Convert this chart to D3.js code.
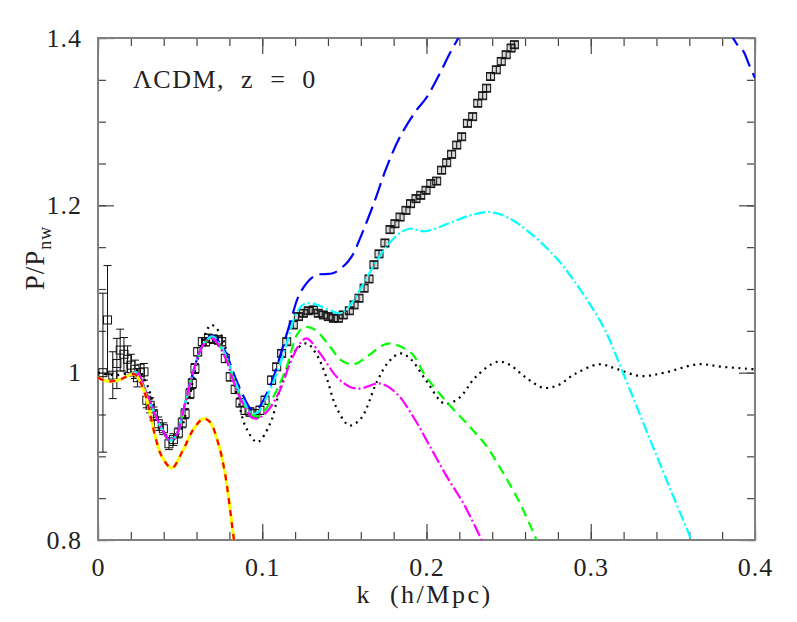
<!DOCTYPE html>
<html>
<head>
<meta charset="utf-8">
<script src="https://cdn.jsdelivr.net/npm/d3@7"></script>
<style>
  body { margin: 0; background: #fff; }
  svg text { font-family: "Liberation Serif", "DejaVu Serif", serif; fill: #222; }
</style>
</head>
<body>
<div class="chart"></div>
<script>
// measured points (k, P/Pnw, error)
const dataK = [0.003,0.0058,0.009,0.0115,0.0135,0.0158,0.018,0.020,0.0225,0.024,0.0258,0.028,0.0297,0.0317,0.0337,0.0367,0.0398,0.0432,0.0459,0.0489,0.0513,0.053,0.056,0.0574,0.059,0.0607,0.0635,0.0655,0.0672,0.0702,0.0733,0.0753,0.0775,0.0805,0.0835,0.0865,0.0895,0.0925,0.0956,0.0986,0.1017,0.1057,0.1088,0.1118,0.1149,0.1189,0.122,0.125,0.128,0.1311,0.1341,0.1372,0.1402,0.1433,0.1463,0.1493,0.153,0.1559,0.1589,0.162,0.165,0.168,0.1711,0.1747,0.1778,0.1808,0.1839,0.1875,0.1903,0.1936,0.1965,0.1997,0.2026,0.2062,0.2092,0.2123,0.2153,0.2184,0.2214,0.2249,0.2281,0.2312,0.2342,0.2366,0.239,0.2425,0.2455,0.2485,0.2515,0.2535];
const dataP = [1.000,1.063,0.997,1.011,1.027,1.022,1.016,1.009,1.004,0.994,1.000,1.001,0.967,0.961,0.951,0.939,0.933,0.915,0.920,0.928,0.940,0.951,0.975,0.987,1.005,1.025,1.037,1.037,1.041,1.040,1.039,1.037,1.017,0.995,0.980,0.964,0.955,0.953,0.951,0.955,0.967,0.991,1.007,1.023,1.037,1.057,1.067,1.071,1.074,1.075,1.071,1.069,1.067,1.065,1.065,1.069,1.074,1.081,1.089,1.101,1.112,1.129,1.142,1.155,1.171,1.178,1.186,1.194,1.202,1.208,1.212,1.218,1.226,1.229,1.242,1.251,1.261,1.272,1.282,1.298,1.306,1.322,1.331,1.340,1.354,1.362,1.372,1.380,1.388,1.392];
const dataErr = [0.095,0.065,0.028,0.030,0.025,0.020,0.016,0.013,0.011,0.011,0.010,0.010,0.009,0.009,0.008,0.008,0.007,0.007,0.007,0.006,0.006,0.006,0.006,0.006,0.006,0.005,0.005,0.005,0.005,0.005,0.005,0.005,0.005,0.005,0.005,0.005,0.005,0.005,0.005,0.005,0.005,0.005,0.004,0.004,0.004,0.004,0.004,0.004,0.004,0.004,0.004,0.004,0.004,0.004,0.004,0.004,0.004,0.004,0.004,0.004,0.004,0.004,0.004,0.004,0.004,0.004,0.004,0.004,0.004,0.004,0.004,0.004,0.004,0.004,0.004,0.004,0.004,0.004,0.004,0.004,0.004,0.004,0.004,0.004,0.004,0.004,0.004,0.004,0.004,0.004];

// model curves, [k, P/Pnw]; null marks a gap (curve off the top)
const linearRatio = [[0,1.0],[0.01,0.997],[0.02,1.0],[0.025,1.002],[0.03,0.985],[0.035,0.955],[0.04,0.928],[0.044,0.918],[0.05,0.93],[0.055,0.965],[0.06,1.01],[0.065,1.045],[0.069,1.057],[0.075,1.045],[0.08,1.01],[0.085,0.97],[0.09,0.935],[0.097,0.917],[0.105,0.94],[0.11,0.975],[0.115,1.005],[0.12,1.026],[0.127,1.035],[0.133,1.022],[0.139,0.995],[0.145,0.959],[0.153,0.937],[0.16,0.945],[0.17,0.99],[0.177,1.013],[0.184,1.023],[0.19,1.017],[0.2,0.99],[0.211,0.963],[0.22,0.97],[0.23,0.995],[0.243,1.013],[0.25,1.01],[0.26,0.995],[0.271,0.982],[0.28,0.985],[0.29,0.998],[0.305,1.01],[0.315,1.005],[0.33,0.996],[0.345,1.0],[0.365,1.01],[0.38,1.007],[0.4,1.004]];
const blueCurve = [[0,0.994],[0.005,0.99],[0.01,0.99],[0.015,0.993],[0.02,0.999],[0.024,1.0],[0.0286,0.98],[0.0337,0.956],[0.0388,0.934],[0.0438,0.92],[0.0479,0.927],[0.053,0.963],[0.059,1.008],[0.0641,1.034],[0.0695,1.044],[0.0773,1.026],[0.0824,1.0],[0.0885,0.972],[0.0936,0.956],[0.0976,0.958],[0.1027,0.975],[0.1057,0.988],[0.1169,1.059],[0.123,1.095],[0.1321,1.116],[0.1433,1.119],[0.1504,1.129],[0.1545,1.139],[0.1605,1.165],[0.1686,1.206],[0.1758,1.246],[0.1839,1.282],[0.194,1.314],[0.2001,1.329],[0.2082,1.358],[0.2143,1.382],[0.2188,1.398],[0.222,1.41],null,[0.384,1.41],[0.3866,1.4],[0.39,1.39],[0.393,1.384],[0.396,1.37],[0.4,1.352]];
const cyanCurve = [[0,0.994],[0.005,0.99],[0.01,0.99],[0.015,0.993],[0.02,0.999],[0.024,1.0],[0.0286,0.979],[0.0337,0.955],[0.0388,0.933],[0.0438,0.919],[0.0479,0.926],[0.053,0.963],[0.059,1.008],[0.0641,1.033],[0.0685,1.043],[0.0702,1.043],[0.0773,1.023],[0.0824,0.995],[0.0885,0.967],[0.0936,0.951],[0.0976,0.953],[0.1027,0.971],[0.1088,0.999],[0.1149,1.035],[0.12,1.068],[0.124,1.08],[0.127,1.083],[0.1321,1.082],[0.1372,1.078],[0.1433,1.073],[0.1473,1.071],[0.1524,1.078],[0.1595,1.099],[0.1676,1.127],[0.1758,1.151],[0.1839,1.167],[0.19,1.172],[0.1991,1.169],[0.2143,1.179],[0.2265,1.188],[0.2387,1.192],[0.25,1.185],[0.263,1.167],[0.2772,1.141],[0.2894,1.111],[0.3076,1.055],[0.3198,0.999],[0.3361,0.92],[0.3503,0.852],[0.3604,0.804],[0.3615,0.798]];
const greenCurve = [[0,0.994],[0.005,0.99],[0.01,0.99],[0.015,0.993],[0.02,0.999],[0.024,1.0],[0.0286,0.979],[0.0337,0.955],[0.0388,0.933],[0.0438,0.919],[0.0479,0.926],[0.053,0.963],[0.059,1.008],[0.0641,1.033],[0.0695,1.042],[0.0773,1.021],[0.0824,0.993],[0.0885,0.964],[0.0936,0.95],[0.098,0.948],[0.1027,0.958],[0.1088,0.979],[0.1149,1.007],[0.121,1.045],[0.125,1.054],[0.129,1.054],[0.133,1.05],[0.1413,1.031],[0.1473,1.016],[0.1534,1.01],[0.1575,1.011],[0.1636,1.019],[0.1737,1.033],[0.178,1.035],[0.1808,1.034],[0.191,1.023],[0.1991,0.997],[0.2123,0.965],[0.2265,0.935],[0.2366,0.912],[0.2467,0.88],[0.2569,0.844],[0.2661,0.804],[0.268,0.795]];
const magentaCurve = [[0,0.994],[0.005,0.99],[0.01,0.99],[0.015,0.993],[0.02,0.999],[0.024,1.0],[0.0286,0.979],[0.0337,0.955],[0.0388,0.933],[0.0438,0.919],[0.0479,0.926],[0.053,0.963],[0.059,1.008],[0.0641,1.033],[0.0695,1.041],[0.0773,1.019],[0.0824,0.99],[0.0885,0.962],[0.0936,0.947],[0.0966,0.945],[0.1027,0.953],[0.1108,0.979],[0.1169,1.011],[0.123,1.035],[0.127,1.041],[0.1352,1.023],[0.1453,0.995],[0.1534,0.983],[0.1595,0.981],[0.1717,0.987],[0.1819,0.975],[0.192,0.947],[0.2021,0.912],[0.2123,0.876],[0.2224,0.844],[0.2326,0.804],[0.234,0.798]];
const redCurve = [[0,0.994],[0.005,0.99],[0.01,0.99],[0.015,0.993],[0.02,0.998],[0.0225,0.998],[0.0246,0.993],[0.0286,0.975],[0.0317,0.951],[0.0347,0.925],[0.0388,0.9],[0.0449,0.886],[0.0519,0.908],[0.058,0.932],[0.0641,0.945],[0.0682,0.941],[0.0733,0.915],[0.0773,0.88],[0.0828,0.8],[0.084,0.785]];

const xMajor = [0, 0.1, 0.2, 0.3, 0.4];
const xMinor = d3.range(0, 0.4001, 0.02);
const yMajor = [0.8, 1.0, 1.2, 1.4];
const yMinor = d3.range(0.8, 1.4001, 0.05);

const svg_width = 797, svg_height = 622;
const margin = {top:38, right:42, bottom:82, left:98};
const width = svg_width - margin.left - margin.right;
const height = svg_height - margin.top - margin.bottom;

const svg = d3.select('.chart').append('svg')
  .attr('width', svg_width).attr('height', svg_height);
const g = svg.append('g').attr('transform', `translate(${margin.left},${margin.top})`);

const x = d3.scaleLinear().domain([0, 0.4]).range([0, width]);
const y = d3.scaleLinear().domain([0.8, 1.4]).range([height, 0]);

g.append('clipPath').attr('id', 'plot-clip')
  .append('rect').attr('width', width).attr('height', height);

// ticks on all four sides, pointing inward
const fmt = d => d === 0 ? '0' : d3.format('~g')(d);
function tickLines(axis, vals, size){
  return axis.tickValues(vals).tickSize(size).tickFormat('');
}
g.append('g').attr('class','x minor').attr('transform',`translate(0,${height})`).call(tickLines(d3.axisBottom(x), xMinor, -8));
g.append('g').attr('class','x minor').call(tickLines(d3.axisTop(x), xMinor, -8));
g.append('g').attr('class','x major').call(tickLines(d3.axisTop(x), xMajor, -16));
g.append('g').attr('class','x major labels').attr('transform',`translate(0,${height})`)
  .call(d3.axisBottom(x).tickValues(xMajor).tickSize(-16).tickPadding(13).tickFormat(fmt));
g.append('g').attr('class','y minor').call(tickLines(d3.axisLeft(y), yMinor, -8));
g.append('g').attr('class','y minor').attr('transform',`translate(${width},0)`).call(tickLines(d3.axisRight(y), yMinor, -8));
g.append('g').attr('class','y major').attr('transform',`translate(${width},0)`).call(tickLines(d3.axisRight(y), yMajor, -16));
g.append('g').attr('class','y major labels')
  .call(d3.axisLeft(y).tickValues(yMajor).tickSize(-16).tickPadding(16).tickFormat(fmt));

g.selectAll('.domain').remove();
g.selectAll('.tick line').attr('stroke', '#444').attr('stroke-width', 1.2);
g.selectAll('.labels .tick text').style('font-size', '26px').style('letter-spacing','1px').attr('fill', '#222');
g.selectAll('.x.labels .tick text').attr('dy', '0.9em');

g.append('rect').attr('width', width).attr('height', height)
  .attr('fill', 'none').attr('stroke', '#808080').attr('stroke-width', 2);

// data points with error bars
const pts = dataK.map((k, i) => ({k: k, p: dataP[i], e: dataErr[i]}));
const pg = g.append('g').attr('class','points').attr('clip-path','url(#plot-clip)');
const pt = pg.selectAll('.pt').data(pts).enter().append('g').attr('class','pt')
  .attr('stroke', '#111').attr('stroke-width', 1).attr('fill', 'none');
pt.append('line')
  .attr('x1', d => x(d.k)).attr('x2', d => x(d.k))
  .attr('y1', d => y(d.p + d.e)).attr('y2', d => y(d.p - d.e));
pt.append('line')
  .attr('x1', d => x(d.k) - 4).attr('x2', d => x(d.k) + 4)
  .attr('y1', d => y(d.p + d.e)).attr('y2', d => y(d.p + d.e));
pt.append('line')
  .attr('x1', d => x(d.k) - 4).attr('x2', d => x(d.k) + 4)
  .attr('y1', d => y(d.p - d.e)).attr('y2', d => y(d.p - d.e));
pt.append('rect')
  .attr('x', d => x(d.k) - 4).attr('y', d => y(d.p) - 4)
  .attr('width', 8).attr('height', 8)
  .attr('fill', d => d.k > 0.11 ? 'rgba(0,0,0,0.15)' : 'none');

// model curves
const series = [
  {name:'linear', values: linearRatio, color:'#000', width:2.2, dash:'2,4.5'},
  {name:'blue', values: blueCurve, color:'#0000ff', width:2.2, dash:'18,7'},
  {name:'green', values: greenCurve, color:'#00ff00', width:2.2, dash:'10,6'},
  {name:'cyan', values: cyanCurve, color:'#00ffff', width:2.2, dash:'11,3,2,3'},
  {name:'magenta', values: magentaCurve, color:'#ff00ff', width:2.2, dash:'13,3,2,3'},
  {name:'yellow', values: redCurve, color:'#ffff00', width:3, dash:null},
  {name:'red', values: redCurve, color:'#ff0000', width:2.2, dash:'6,6'}
];
const lineGen = d3.line()
  .defined(d => d !== null)
  .x(d => x(d[0])).y(d => y(d[1]))
  .curve(d3.curveCatmullRom.alpha(0.5));
g.append('g').attr('class','curves').attr('clip-path','url(#plot-clip)')
  .selectAll('path').data(series).enter().append('path')
  .attr('class', d => `curve ${d.name}`)
  .attr('d', d => lineGen(d.values))
  .attr('fill', 'none')
  .attr('stroke', d => d.color)
  .attr('stroke-width', d => d.width)
  .attr('stroke-dasharray', d => d.dash);

// labels
g.append('text').attr('x', 35).attr('y', 50)
  .attr('xml:space', 'preserve')
  .style('font-size', '26px').style('letter-spacing', '1.5px')
  .text('\u039BCDM,  z  =  0');

svg.append('text').attr('x', margin.left + width / 2 - 2).attr('y', 603)
  .attr('text-anchor', 'middle').style('font-size', '26px').style('letter-spacing', '2.5px')
  .attr('xml:space', 'preserve')
  .text('k  (h/Mpc)');

const yt = svg.append('text').attr('transform', 'translate(44,258) rotate(-90)')
  .attr('text-anchor', 'middle').style('font-size', '27px').style('letter-spacing', '1px');
yt.append('tspan').text('P/P');
yt.append('tspan').attr('dy', 7).style('font-size', '18px').text('nw');
</script>
</body>
</html>
